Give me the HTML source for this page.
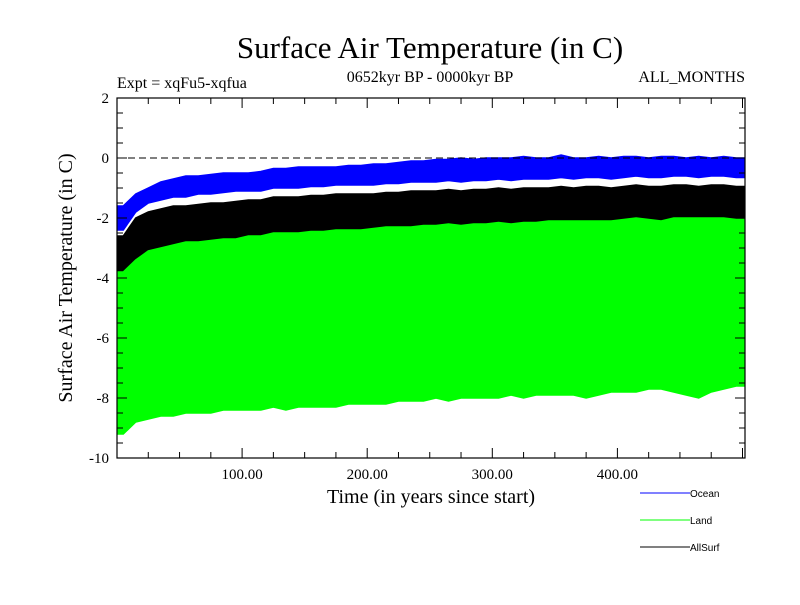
<!DOCTYPE html>
<html><head><meta charset="utf-8"><style>
body{margin:0;background:#fff}
svg text{font-family:"Liberation Serif",serif}
svg text.legend-text{font-family:"Liberation Sans",sans-serif;font-size:10px}
</style></head><body>
<svg id="c" width="800" height="600" xmlns="http://www.w3.org/2000/svg">
<text x="430" y="58" font-size="31" text-anchor="middle">Surface Air Temperature (in C)</text>
<text x="117" y="88" font-size="16">Expt = xqFu5-xqfua</text>
<text x="430" y="82" font-size="16" text-anchor="middle">0652kyr BP - 0000kyr BP</text>
<text x="745" y="82" font-size="16" text-anchor="end">ALL_MONTHS</text>
<text transform="translate(72,278) rotate(-90)" font-size="20" text-anchor="middle">Surface Air Temperature (in C)</text>
<text x="431" y="503" font-size="20" text-anchor="middle">Time (in years since start)</text>
<g id="plot"></g>
<g id="axes"></g>
<g>
<line x1="640" y1="493" x2="690" y2="493" stroke="#0000ff"/>
<text class="legend-text" x="690" y="497">Ocean</text>
<line x1="640" y1="520" x2="690" y2="520" stroke="#00ff00"/>
<text class="legend-text" x="690" y="524">Land</text>
<line x1="640" y1="547" x2="690" y2="547" stroke="#000"/>
<text class="legend-text" x="690" y="551">AllSurf</text>
</g>
</svg>
<script>
const binYears=[5,15,25,35,45,55,65,75,85,95,105,115,125,135,145,155,165,175,185,195,205,215,225,235,245,255,265,275,285,295,305,315,325,335,345,355,365,375,385,395,405,415,425,435,445,455,465,475,485,495];
const blueTop=[-1.6,-1.2,-1.0,-0.8,-0.7,-0.6,-0.6,-0.55,-0.5,-0.5,-0.5,-0.45,-0.35,-0.35,-0.3,-0.3,-0.3,-0.3,-0.25,-0.25,-0.2,-0.2,-0.15,-0.1,-0.1,-0.05,-0.05,0,-0.05,0,0,0,0.05,0,0,0.1,0,0,0.05,0,0.05,0.05,0,0.05,0.05,0,0.05,0,0.05,0];
const blueBot=[-2.4,-1.8,-1.5,-1.4,-1.3,-1.3,-1.2,-1.2,-1.15,-1.1,-1.1,-1.1,-1.0,-1.0,-1.0,-0.95,-0.95,-0.9,-0.9,-0.9,-0.9,-0.85,-0.85,-0.8,-0.8,-0.8,-0.75,-0.8,-0.75,-0.75,-0.7,-0.75,-0.7,-0.7,-0.7,-0.65,-0.7,-0.65,-0.65,-0.7,-0.65,-0.6,-0.65,-0.65,-0.6,-0.6,-0.65,-0.6,-0.6,-0.65];
const blackTop=[-2.6,-2.0,-1.8,-1.7,-1.6,-1.6,-1.55,-1.5,-1.5,-1.45,-1.4,-1.4,-1.3,-1.3,-1.3,-1.25,-1.25,-1.2,-1.2,-1.2,-1.2,-1.15,-1.15,-1.1,-1.1,-1.1,-1.05,-1.1,-1.05,-1.05,-1.0,-1.05,-1.0,-1.0,-1.0,-0.95,-1.0,-0.95,-0.95,-1.0,-0.95,-0.9,-0.95,-0.95,-0.9,-0.9,-0.95,-0.9,-0.9,-0.95];
const greenTop=[-3.8,-3.4,-3.1,-3.0,-2.9,-2.8,-2.8,-2.75,-2.7,-2.7,-2.6,-2.6,-2.5,-2.5,-2.5,-2.45,-2.45,-2.4,-2.4,-2.4,-2.35,-2.3,-2.3,-2.3,-2.25,-2.25,-2.2,-2.25,-2.2,-2.2,-2.15,-2.2,-2.15,-2.15,-2.1,-2.1,-2.1,-2.1,-2.1,-2.1,-2.05,-2.0,-2.05,-2.1,-2.0,-2.0,-2.0,-2.0,-2.0,-2.05];
const greenBot=[-9.2,-8.8,-8.7,-8.6,-8.6,-8.5,-8.5,-8.5,-8.4,-8.4,-8.4,-8.4,-8.3,-8.4,-8.3,-8.3,-8.3,-8.3,-8.2,-8.2,-8.2,-8.2,-8.1,-8.1,-8.1,-8.0,-8.1,-8.0,-8.0,-8.0,-8.0,-7.9,-8.0,-7.9,-7.9,-7.9,-7.9,-8.0,-7.9,-7.8,-7.8,-7.8,-7.7,-7.7,-7.8,-7.9,-8.0,-7.8,-7.7,-7.6];
const blackBot=greenTop.map(v=>v-0.6);
const xTicks=[100,200,300,400];
const xTickLabels=["100.00","200.00","300.00","400.00"];
const yTicks=[2,0,-2,-4,-6,-8,-10];
const yTickLabels=["2","0","-2","-4","-6","-8","-10"];

const L=117,R=745,T=98,B=458,X0=0,X1=502,Y0=-10,Y1=2;
const sx=v=>L+(v-X0)/(X1-X0)*(R-L);
const sy=v=>B-(v-Y0)/(Y1-Y0)*(B-T);
const NS="http://www.w3.org/2000/svg";
const plot=document.getElementById('plot'),axes=document.getElementById('axes');
function mk(tag,attrs,parent){const e=document.createElementNS(NS,tag);for(const k in attrs)e.setAttribute(k,attrs[k]);parent.appendChild(e);return e;}
function band(top,bot,color,name){
  const pts=[];
  pts.push(sx(X0+1)+','+sy(top[0]));
  binYears.forEach((x,i)=>pts.push(sx(x)+','+sy(top[i])));
  pts.push(sx(X1-1)+','+sy(top[top.length-1]));
  pts.push(sx(X1-1)+','+sy(bot[bot.length-1]));
  for(let i=binYears.length-1;i>=0;i--)pts.push(sx(binYears[i])+','+sy(bot[i]));
  pts.push(sx(X0+1)+','+sy(bot[0]));
  const p=mk('polygon',{points:pts.join(' '),fill:color,stroke:color,'stroke-width':1.5},plot);
  
  
}
band(blueTop,blueBot,'#0000ff','ocean-series');
band(blackTop,blackBot,'#000000','allsurf-series');
band(greenTop,greenBot,'#00ff00','land-series');
const z=mk('line',{x1:L,x2:R,y1:sy(0),y2:sy(0),stroke:'#000','stroke-dasharray':'7,4','stroke-width':1},axes);


const fr=mk('rect',{x:L,y:T,width:R-L,height:B-T,fill:'none',stroke:'#000','stroke-width':1.2},axes);


for(let v=25;v<X1;v+=25){
  const len=(v%100===0)?10:6;
  mk('line',{x1:sx(v),x2:sx(v),y1:B,y2:B-len,stroke:'#000'},axes);
  mk('line',{x1:sx(v),x2:sx(v),y1:T,y2:T+len,stroke:'#000'},axes);
}
for(let v=-9.5;v<2;v+=0.5){
  const len=(Math.abs(v%2)<1e-9)?10:6;
  mk('line',{x1:L,x2:L+len,y1:sy(v),y2:sy(v),stroke:'#000'},axes);
  mk('line',{x1:R,x2:R-len,y1:sy(v),y2:sy(v),stroke:'#000'},axes);
}
xTicks.forEach((v,i)=>{const t=mk('text',{x:sx(v),y:B+21,'font-size':15,'text-anchor':'middle'},axes);t.textContent=xTickLabels[i];

});
yTicks.forEach((v,i)=>{const t=mk('text',{x:L-8,y:sy(v)+5,'font-size':15,'text-anchor':'end'},axes);t.textContent=yTickLabels[i];

});
</script>
</body></html>
